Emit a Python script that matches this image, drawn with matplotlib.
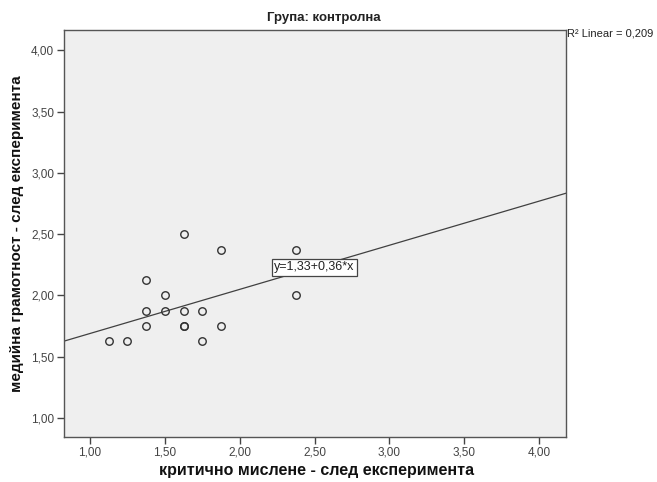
import numpy as np
import matplotlib
matplotlib.use("Agg")
import matplotlib.pyplot as plt
from matplotlib.ticker import FixedLocator, FuncFormatter

# data
x_vals = [1.125, 1.25, 1.375, 1.375, 1.375, 1.5, 1.5, 1.625, 1.625, 1.625, 1.625,
          1.75, 1.75, 1.875, 1.875, 2.375, 2.375]
y_vals = [1.625, 1.625, 2.125, 1.875, 1.75, 2.0, 1.875, 2.5, 1.875, 1.75, 1.75,
          1.875, 1.625, 2.375, 1.75, 2.375, 2.0]
intercept = 1.33
slope = 0.36
r2 = 0.209
ticks = [1.0, 1.5, 2.0, 2.5, 3.0, 3.5, 4.0]

plt.rcParams['font.family'] = ['Liberation Sans Narrow', 'Liberation Sans', 'DejaVu Sans']

fig = plt.figure(figsize=(6.57, 4.82), dpi=100)
ax = fig.add_axes([64 / 657, 1 - 437 / 482, (566 - 64) / 657, (437 - 30) / 482])
ax.set_facecolor('#efefef')
for s in ax.spines.values():
    s.set_color('#555555')
    s.set_linewidth(1.0)

xlim = (0.826, 4.18)
ylim = (0.845, 4.167)
ax.set_xlim(*xlim)
ax.set_ylim(*ylim)

xx = np.array(xlim)
ax.plot(xx, intercept + slope * xx, color='#404040', lw=0.9, zorder=2)
ax.plot(x_vals, y_vals, 'o', mfc='none', mec='#333333', mew=1.0, ms=5.4, zorder=3)

ax.text(2.5, intercept + slope * 2.5, 'y=1,33+0,36*x', ha='center', va='center',
        fontsize=9, color='#222222', zorder=4,
        bbox=dict(boxstyle='square,pad=0.2', fc='white', ec='#444444', lw=0.9))

fmt = FuncFormatter(lambda v, p: f'{v:.2f}'.replace('.', ','))
ax.xaxis.set_major_locator(FixedLocator(ticks))
ax.yaxis.set_major_locator(FixedLocator(ticks))
ax.xaxis.set_major_formatter(fmt)
ax.yaxis.set_major_formatter(fmt)
ax.tick_params(direction='out', length=5, width=1, color='#444444',
               labelsize=8.5, labelcolor='#444444', pad=2)

ax.set_ylabel('медийна грамотност - след експеримента', fontsize=11, fontweight='bold',
              color='#111111', labelpad=5)
# x label placed by hand so it stays inside the picture
fig.text(317 / 657, 1 - 471 / 482, 'критично мислене - след експеримента',
         ha='center', va='center', fontsize=11.5, fontweight='bold', color='#111111')

fig.text(324 / 657, 1 - 18 / 482, 'Група: контролна', ha='center', va='center',
         fontsize=9.5, fontweight='bold', color='#222222')
fig.text(567 / 657, 1 - 34 / 482, 'R\u00b2 Linear = 0,209', ha='left', va='center',
         fontsize=8, color='#222222')

fig.savefig('out.png', dpi=100, facecolor='white')
